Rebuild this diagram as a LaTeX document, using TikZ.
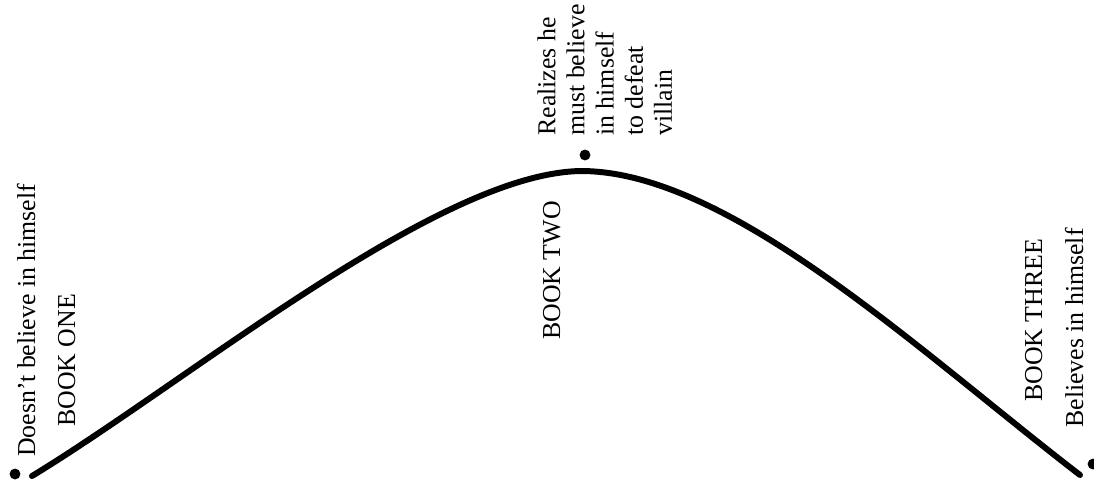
\documentclass[tikz,border=0pt]{standalone}
\usepackage{fontspec}
\setmainfont{Liberation Serif}
\tikzset{
  arcline/.style={line width=3.4pt, line cap=round},
  beat/.style={circle, fill=black, inner sep=0pt, minimum size=6.2pt},
  vtext/.style={rotate=90, inner sep=0pt, font=\fontsize{14.7}{16.6}\selectfont},
  booktxt/.style={vtext, anchor=base west},
  notetxt/.style={vtext, anchor=north west, align=left},
}

\begin{document}
\begin{tikzpicture}[x=0.02cm, y=-0.02cm]
    \useasboundingbox (0,0) rectangle (1094,481);
    % the arc
    \coordinate (low1) at (32,476);
    \coordinate (top) at (582,171);
    \coordinate (low3) at (1080,475);
    \draw[arcline] (low1) .. controls (190,380) and (440,172) .. (top)
      .. controls (730,172) and (920,352) .. (low3);
    \node[beat] (start) at (15,474) {};
    \node[beat] (turn) at (585,155) {};
    \node[beat] (finish) at (1093,464) {};
    \node[booktxt] (doubt) at (35,457) {Doesn't believe in himself};
    \node[booktxt] (one) at (75,427) {BOOK ONE};
    \node[booktxt] (two) at (560,340) {BOOK TWO};
    \node[notetxt] (realize) at (537,136) {Realizes he\\must believe\\in himself\\to defeat\\villain};
    \node[booktxt] (three) at (1042,402) {BOOK THREE};
    \node[booktxt] (belief) at (1083,428) {Believes in himself};
  \end{tikzpicture}
\end{document}
